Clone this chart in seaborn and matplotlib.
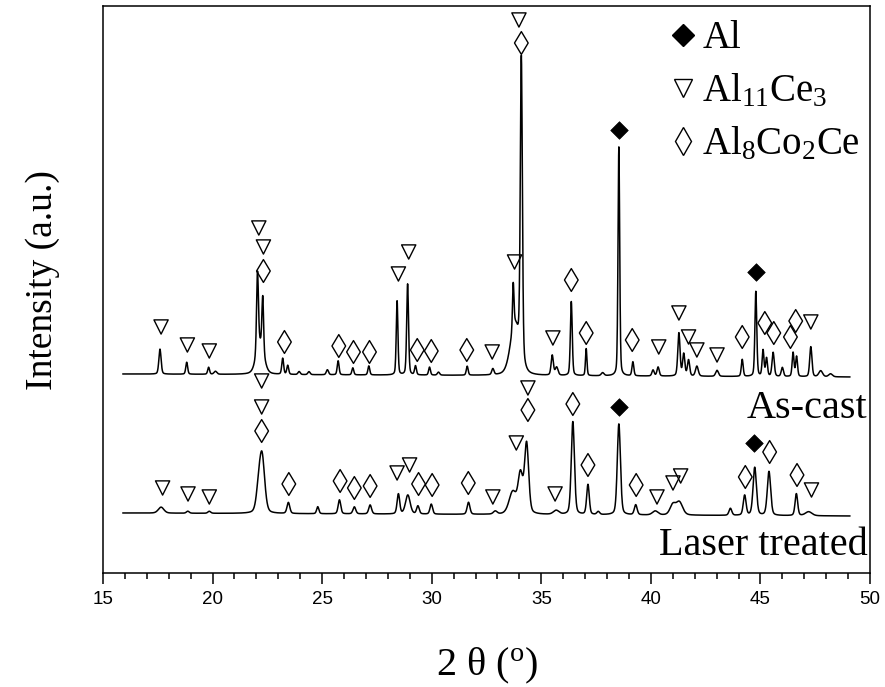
import numpy as np
import matplotlib
matplotlib.use("Agg")
import matplotlib.pyplot as plt
from matplotlib.lines import Line2D
from matplotlib.ticker import MultipleLocator
import seaborn as sns

# ---------------- data ----------------
two_theta_start = 15.9
two_theta_end = 49.1

# As-cast pattern: baseline (start, end) and peaks (position, height, fwhm)
ascast_baseline = [199, 196]
ascast_pos = [17.60, 18.82, 19.82, 20.13, 22.05, 22.17, 22.29, 23.20, 23.43, 23.95,
              24.40, 25.24, 25.73, 26.40, 27.13, 28.42, 28.90, 29.26, 29.90, 30.31,
              31.62, 32.79, 33.80, 33.72, 34.09, 35.50, 35.70, 36.37, 37.05, 37.80,
              38.54, 39.18, 40.10, 40.33, 41.28, 41.50, 41.72, 42.10, 43.02, 44.17,
              44.79, 45.12, 45.28, 45.58, 46.00, 46.49, 46.65, 47.30, 47.75, 48.20]
ascast_amp = [25, 12, 7, 3, 80, 30, 55, 16, 9, 3,
              3, 5, 14, 7, 9, 74, 91, 9, 8, 3,
              9, 6, 50, 45, 300, 20, 8, 74, 27, 3,
              229, 14, 6, 9, 43, 22, 16, 10, 6, 17,
              85, 26, 18, 24, 9, 24, 20, 30, 6, 3]
ascast_fwhm = [0.12, 0.10, 0.10, 0.15, 0.10, 0.40, 0.09, 0.10, 0.10, 0.12,
               0.12, 0.12, 0.10, 0.10, 0.10, 0.09, 0.10, 0.10, 0.10, 0.12,
               0.10, 0.12, 0.50, 0.08, 0.11, 0.12, 0.15, 0.10, 0.08, 0.15,
               0.09, 0.10, 0.12, 0.12, 0.12, 0.12, 0.12, 0.15, 0.15, 0.10,
               0.10, 0.10, 0.10, 0.12, 0.12, 0.10, 0.10, 0.12, 0.20, 0.20]

# Laser treated pattern
laser_baseline = [60, 57]
laser_pos = [17.65, 18.87, 19.85, 22.10, 22.26, 23.46, 24.80, 25.79, 26.47, 27.19,
             28.48, 28.91, 29.37, 29.98, 31.68, 32.90, 33.70, 34.05, 34.33, 35.68,
             36.44, 37.13, 37.60, 38.54, 39.31, 40.20, 41.00, 41.30, 43.63, 44.28,
             44.74, 45.39, 46.64, 47.20]
laser_amp = [6, 2, 2, 20, 55, 11, 7, 14, 7, 9,
             20, 19, 8, 10, 12, 3, 22, 38, 70, 4,
             93, 30, 3, 91, 10, 4, 10, 13, 7, 20,
             48, 44, 22, 4]
laser_fwhm = [0.30, 0.15, 0.15, 0.25, 0.28, 0.15, 0.12, 0.14, 0.15, 0.15,
              0.14, 0.25, 0.14, 0.14, 0.15, 0.20, 0.40, 0.25, 0.22, 0.30,
              0.17, 0.14, 0.15, 0.17, 0.15, 0.30, 0.30, 0.35, 0.15, 0.15,
              0.18, 0.18, 0.14, 0.35]

# Phase identification marks (2theta, height)
ascast_al11ce3_x = [17.65, 18.85, 19.85, 22.11, 22.32, 28.48, 28.95, 32.76, 33.98, 33.78,
                    35.53, 40.36, 41.28, 41.72, 42.10, 43.02, 47.30]
ascast_al11ce3_y = [246, 228, 222, 345, 326, 299, 321, 221, 553, 311,
                    235, 226, 260, 236, 223, 218, 251]
ascast_al8co2ce_x = [22.32, 23.28, 25.76, 26.43, 27.16, 29.34, 29.98, 31.60, 34.09, 36.37,
                     37.05, 39.15, 44.17, 45.20, 45.61, 46.37, 46.61]
ascast_al8co2ce_y = [302, 231, 227, 221, 221, 223, 222, 223, 530, 293,
                     240, 233, 236, 250, 240, 236, 252]
ascast_al_x = [38.54, 44.82]
ascast_al_y = [443, 301]

laser_al11ce3_x = [17.72, 18.88, 19.85, 22.24, 22.24, 28.42, 28.99, 32.79, 34.39, 33.86,
                   35.63, 40.28, 41.01, 41.36, 47.33]
laser_al11ce3_y = [85, 79, 76, 192, 166, 100, 108, 76, 185, 130,
                   79, 76, 90, 97, 83]
laser_al8co2ce_x = [22.24, 23.48, 25.82, 26.47, 27.19, 29.40, 30.02, 31.67, 34.39, 36.44,
                    37.13, 39.33, 44.31, 45.42, 46.67]
laser_al8co2ce_y = [142, 89, 92, 85, 87, 89, 88, 90, 163, 169,
                    108, 88, 96, 121, 98]
laser_al_x = [38.54, 44.71]
laser_al_y = [166, 130]

phase_labels = ["Al", "Al$_{11}$Ce$_{3}$", "Al$_{8}$Co$_{2}$Ce"]
sample_labels = ["As-cast", "Laser treated"]
x_ticks = [15, 20, 25, 30, 35, 40, 45, 50]


# ---------------- build patterns from the peak lists ----------------
def pattern(x, base, pos, amp, fwhm, eta=0.3):
    y = np.linspace(base[0], base[1], x.size)
    for p, a, w in zip(pos, amp, fwhm):
        g = np.exp(-4 * np.log(2) * ((x - p) / w) ** 2)
        lo = 1.0 / (1.0 + 4 * ((x - p) / w) ** 2)
        y = y + a * ((1 - eta) * g + eta * lo)
    return y


tt = np.arange(two_theta_start, two_theta_end, 0.01)
y_ascast = pattern(tt, ascast_baseline, ascast_pos, ascast_amp, ascast_fwhm)
y_laser = pattern(tt, laser_baseline, laser_pos, laser_amp, laser_fwhm)

# ---------------- styling ----------------
sns.set_style("ticks")
plt.rcParams["font.family"] = ["Liberation Serif", "DejaVu Serif"]
plt.rcParams["mathtext.fontset"] = "custom"
plt.rcParams["mathtext.rm"] = "Liberation Serif"
plt.rcParams["mathtext.it"] = "Liberation Serif:italic"
plt.rcParams["mathtext.bf"] = "Liberation Serif:bold"
plt.rcParams["text.color"] = "black"
plt.rcParams["axes.labelcolor"] = "black"
plt.rcParams["xtick.color"] = "black"
plt.rcParams["ytick.color"] = "black"
plt.rcParams["axes.edgecolor"] = "black"

fig = plt.figure(figsize=(8.85, 6.87), dpi=100)
ax = fig.add_axes([103 / 885, 1 - 573 / 687, 767 / 885, 567 / 687])

sns.lineplot(x=tt, y=y_ascast, ax=ax, color="black", linewidth=1.1,
             estimator=None, sort=False)
sns.lineplot(x=tt, y=y_laser, ax=ax, color="black", linewidth=1.1,
             estimator=None, sort=False)

tri_kw = dict(marker="v", s=105, facecolor="none", edgecolor="black", linewidth=1.0, zorder=3)
dia_kw = dict(marker="d", s=135, facecolor="none", edgecolor="black", linewidth=1.0, zorder=3)
al_kw = dict(marker="D", s=80, color="black", edgecolor="black", linewidth=0.5, zorder=3)

sns.scatterplot(x=ascast_al11ce3_x, y=ascast_al11ce3_y, ax=ax, **tri_kw)
sns.scatterplot(x=ascast_al8co2ce_x, y=ascast_al8co2ce_y, ax=ax, **dia_kw)
sns.scatterplot(x=ascast_al_x, y=ascast_al_y, ax=ax, **al_kw)
sns.scatterplot(x=laser_al11ce3_x, y=laser_al11ce3_y, ax=ax, **tri_kw)
sns.scatterplot(x=laser_al8co2ce_x, y=laser_al8co2ce_y, ax=ax, **dia_kw)
sns.scatterplot(x=laser_al_x, y=laser_al_y, ax=ax, **al_kw)

ax.set_xlim(15, 50)
ax.set_ylim(0, 567)
ax.set_xticks(x_ticks)
ax.xaxis.set_minor_locator(MultipleLocator(1))
ax.set_yticks([])
ax.tick_params(axis="x", which="major", direction="out", length=8, width=1.1,
               labelsize=13.5, pad=5, top=False, colors="black")
ax.tick_params(axis="x", which="minor", direction="out", length=4, width=1.1, top=False)
for lab in ax.get_xticklabels():
    lab.set_fontfamily(["Liberation Sans", "DejaVu Sans"])
for sp in ax.spines.values():
    sp.set_linewidth(1.1)
    sp.set_color("black")
    sp.set_visible(True)

ax.set_xlabel(r"2 θ ($^{\mathrm{o}}$)", fontsize=29, va="center")
ax.xaxis.set_label_coords(0.5, -0.164)
ax.set_ylabel("Intensity (a.u.)", fontsize=27, va="center")
ax.yaxis.set_label_coords(-0.078, 0.517)

ax.text(0.996, 0.291, sample_labels[0], transform=ax.transAxes, ha="right",
        va="center", fontsize=29)
ax.text(0.997, 0.048, sample_labels[1], transform=ax.transAxes, ha="right",
        va="center", fontsize=29)

handles = [
    Line2D([], [], marker="D", color="black", ls="none", markersize=11),
    Line2D([], [], marker="v", markerfacecolor="none", markeredgecolor="black",
           ls="none", markersize=13, markeredgewidth=1.0),
    Line2D([], [], marker="d", markerfacecolor="none", markeredgecolor="black",
           ls="none", markersize=14, markeredgewidth=1.0),
]
ax.legend(handles, phase_labels, loc="upper right", bbox_to_anchor=(0.987, 0.975),
          frameon=False, fontsize=28, handlelength=0.4, handletextpad=0.3,
          labelspacing=0.4, borderpad=0, borderaxespad=0)

fig.savefig("out.png", dpi=100)
